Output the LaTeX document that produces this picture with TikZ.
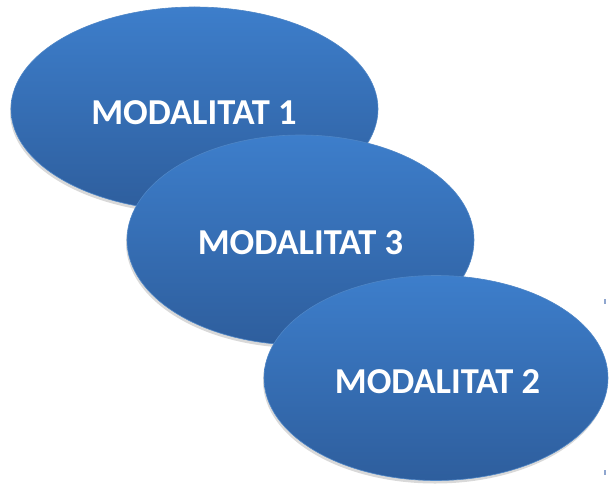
\documentclass[tikz,border=0pt]{standalone}
\usepackage{fontspec}
\setmainfont{Carlito}
\usetikzlibrary{shapes.geometric,shadows}
\definecolor{ctop}{HTML}{3D7ECB}
\definecolor{cbot}{HTML}{2E5E9D}
\definecolor{cedge}{HTML}{4F86C6}
\definecolor{cdot}{HTML}{8FA6CF}
\tikzset{
  modal/.style={ellipse, inner sep=0pt, top color=ctop, bottom color=cbot,
    draw=cedge, line width=0.6pt,
    drop shadow={shadow xshift=-1pt, shadow yshift=-3pt, opacity=0.15, fill=black}},
  modtext/.style={text=white, font=\bfseries\fontsize{36.5}{42}\selectfont, inner sep=0pt},
  dotmark/.style={fill=cdot, draw=none}
}
\begin{document}
\begin{tikzpicture}[x=1pt,y=-1pt]
\useasboundingbox (0,0) rectangle (609,484);
\node[modal, minimum width=367pt, minimum height=204pt] (e1) at (194.5,109) {};
\node[modtext] (t1) at (194,113) {MODALITAT 1};
\node[modal, minimum width=347pt, minimum height=210pt] (e3) at (300.5,240) {};
\node[modtext] (t3) at (300.5,243) {MODALITAT 3};
\node[modal, minimum width=344pt, minimum height=205pt] (e2) at (436,378) {};
\node[modtext] (t2) at (437.5,382) {MODALITAT 2};
\fill[dotmark] (604,299) rectangle (606,304);
\fill[dotmark] (604,470) rectangle (606,475);
\end{tikzpicture}
\end{document}
